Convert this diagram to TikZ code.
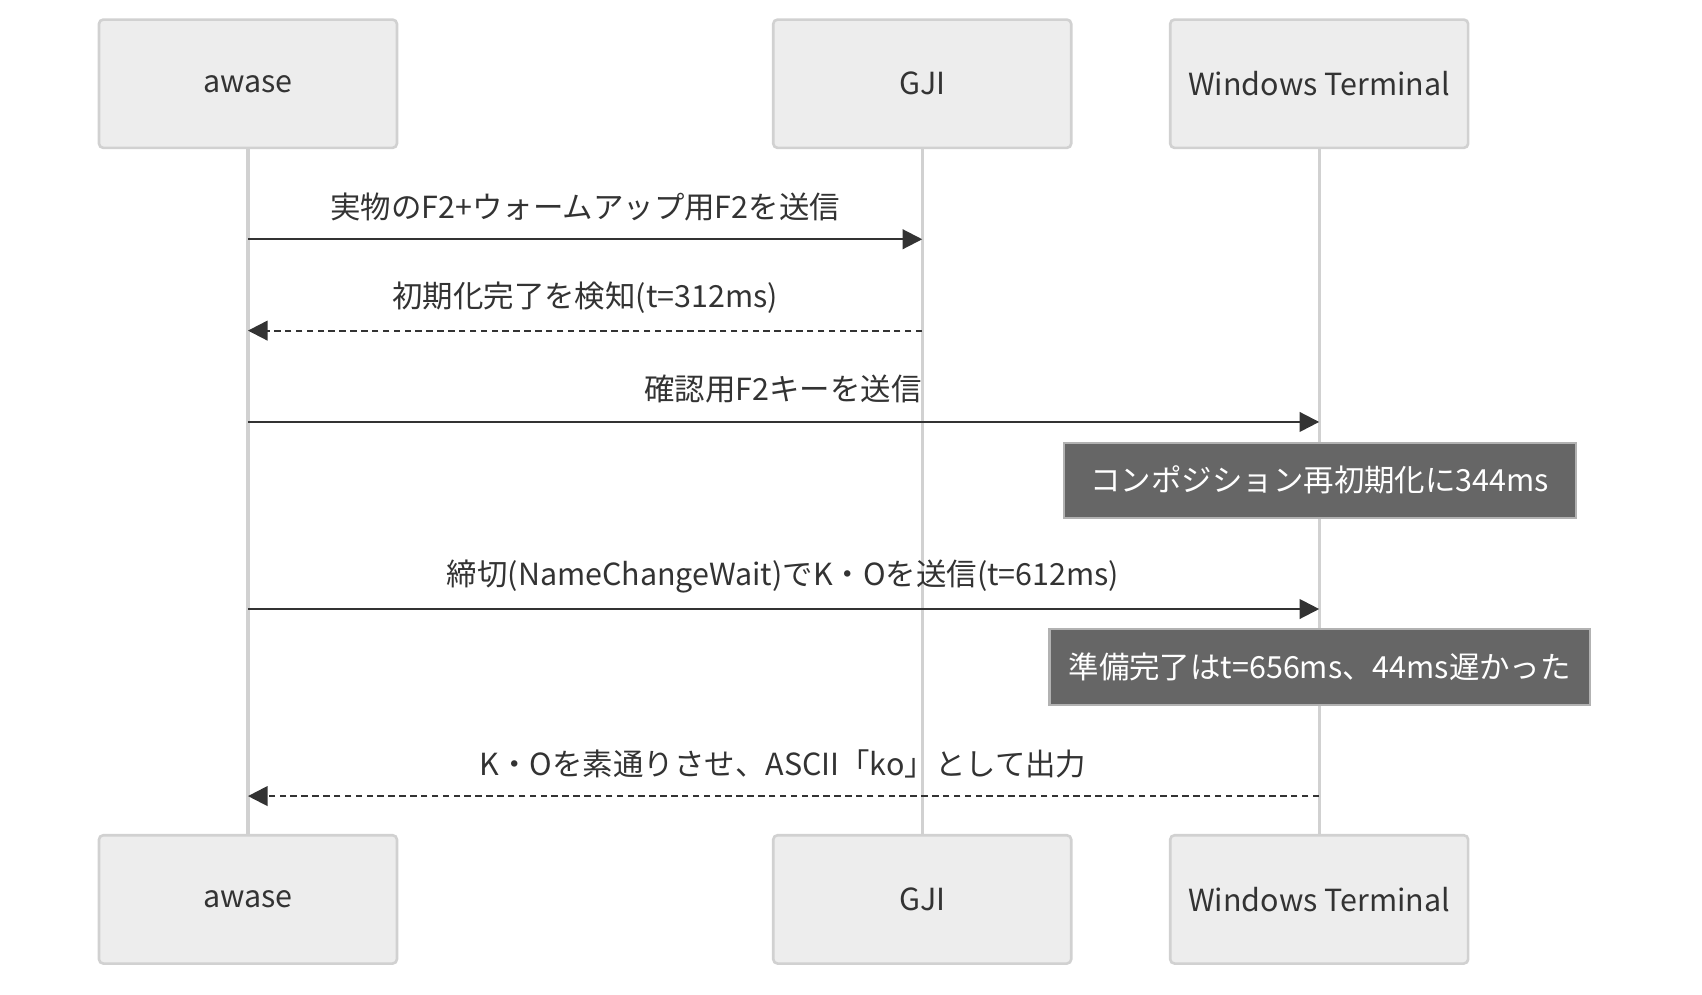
\documentclass[tikz,border=0pt]{standalone}
\usepackage{fontspec}
\setmainfont{Noto Sans CJK JP}
\usetikzlibrary{arrows.meta}
\begin{document}
\begin{tikzpicture}[x=0.5pt,y=-0.5pt,
  actor/.style={draw=black!18,line width=1.2pt,fill=black!7,rounded corners=2pt,minimum width=137pt,minimum height=59pt,font=\fontsize{14}{16}\selectfont,text=black!80},
  life/.style={draw=black!18,line width=1.5pt},
  msg/.style={draw=black!80,line width=1pt,-{Triangle[length=9pt,width=9pt]}},
  rep/.style={msg,dash pattern=on 3pt off 2pt},
  lbl/.style={font=\fontsize{14}{16}\selectfont,text=black!80},
  note/.style={draw=black!30,line width=1pt,fill=black!60,text=white,font=\fontsize{14}{16}\selectfont,inner sep=0pt}]
\useasboundingbox (0,0) rectangle (1565,914);
\node[actor] (a1) at (228,77) {awase};
\node[actor] (g1) at (848,77) {GJI};
\node[actor] (w1) at (1213,77) {Windows Terminal};
\node[actor] (a2) at (228,827) {awase};
\node[actor] (g2) at (848,827) {GJI};
\node[actor] (w2) at (1213,827) {Windows Terminal};
\draw[life] (a1) -- (a2);
\draw[life] (g1) -- (g2);
\draw[life] (w1) -- (w2);
\coordinate (a220) at (228,220); \coordinate (g220) at (848,220);
\coordinate (a304) at (228,304); \coordinate (g304) at (848,304);
\coordinate (a388) at (228,388); \coordinate (w388) at (1213,388);
\coordinate (a560) at (228,560); \coordinate (w560) at (1213,560);
\coordinate (a732) at (228,732); \coordinate (w732) at (1213,732);
\draw[msg] (a220) -- (g220);
\node[lbl] (l1) at (538,190) {実物のF2+ウォームアップ用F2を送信};
\draw[rep] (g304) -- (a304);
\node[lbl] (l2) at (538,274) {初期化完了を検知(t=312ms)};
\draw[msg] (a388) -- (w388);
\node[lbl] (l3) at (720,358) {確認用F2キーを送信};
\node[note,minimum width=235.5pt,minimum height=34.5pt] (n1) at (1213.5,441.5) {コンポジション再初期化に344ms};
\draw[msg] (a560) -- (w560);
\node[lbl] (l4) at (720,530) {締切(NameChangeWait)でK・Oを送信(t=612ms)};
\node[note,minimum width=248.5pt,minimum height=35pt] (n2) at (1213.5,613) {準備完了はt=656ms、44ms遅かった};
\draw[rep] (w732) -- (a732);
\node[lbl] (l5) at (720,702) {K・Oを素通りさせ、ASCII「ko」として出力};
\end{tikzpicture}
\end{document}
